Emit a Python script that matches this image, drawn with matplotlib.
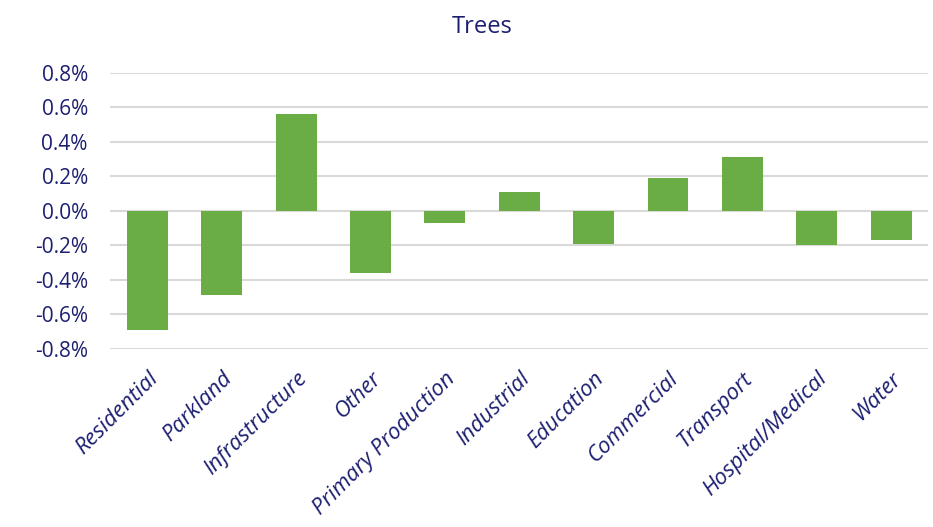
import matplotlib
matplotlib.use("Agg")
import matplotlib.pyplot as plt
from matplotlib.ticker import FuncFormatter, MultipleLocator

categories = ["Residential", "Parkland", "Infrastructure", "Other", "Primary Production",
              "Industrial", "Education", "Commercial", "Transport", "Hospital/Medical", "Water"]
values = [-0.69, -0.49, 0.56, -0.36, -0.07, 0.11, -0.19, 0.19, 0.31, -0.20, -0.17]

navy = "#1c1f70"
green = "#6aad45"

fig = plt.figure(figsize=(9.33, 5.27), dpi=100)
ax = fig.add_axes([0.118, 0.338, 0.877, 0.524])

x = list(range(len(categories)))
ax.bar(x, values, width=0.55, color=green, zorder=3)

ax.set_ylim(-0.8, 0.8)
ax.set_xlim(-0.5, len(categories) - 0.5)
ax.yaxis.set_major_locator(MultipleLocator(0.2))
ax.yaxis.set_major_formatter(FuncFormatter(lambda v, p: f"{v:.1f}%"))
ax.grid(axis="y", color="#d9d9d9", linewidth=1.5, zorder=0)
for s in ax.spines.values():
    s.set_visible(False)
ax.tick_params(axis="both", length=0, colors=navy, labelsize=15)
ax.tick_params(axis="y", pad=16)
ax.tick_params(axis="x", pad=14)
ax.set_xticks(x)
ax.set_xticklabels(categories, rotation=45, ha="right", rotation_mode="anchor",
                   fontsize=16, color=navy, style="italic", fontfamily="Open Sans")
for lbl in ax.get_yticklabels():
    lbl.set_fontfamily("Open Sans")
    lbl.set_color(navy)

fig.text(0.517, 0.948, "Trees", ha="center", va="center", fontsize=17,
         color=navy, fontfamily="Open Sans")

fig.savefig("out.png", dpi=100)
